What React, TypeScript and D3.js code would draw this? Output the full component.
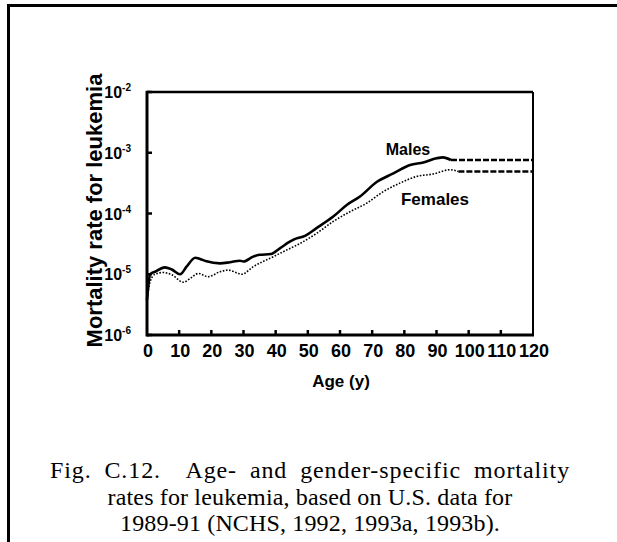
import React from "react";
import * as d3 from "d3";

const maleAges = [0, 1, 2.5, 5.5, 7.7, 10.3, 12.3, 15, 16.5, 18.5, 22.7, 25.8, 28.9, 30, 33, 35, 38.5, 41.3, 44.4, 46.5, 48.6, 52.7, 57.9, 62.1, 66.2, 71.4, 76.6, 81.8, 85.9, 90, 92, 94.5];
const maleRates = [3.8e-6, 1.0e-5, 1.1e-5, 1.3e-5, 1.2e-5, 1.0e-5, 1.33e-5, 1.87e-5, 1.78e-5, 1.63e-5, 1.51e-5, 1.58e-5, 1.67e-5, 1.62e-5, 1.95e-5, 2.09e-5, 2.15e-5, 2.67e-5, 3.44e-5, 3.9e-5, 4.17e-5, 5.75e-5, 8.9e-5, 1.38e-4, 1.9e-4, 3.3e-4, 4.57e-4, 6.3e-4, 6.9e-4, 8.1e-4, 8.4e-4, 7.6e-4];
const femaleAges = [0, 1, 2.5, 5, 7.7, 11.3, 13.4, 16, 19, 22.7, 25.3, 28.4, 29.5, 33, 39.3, 43.4, 47.5, 52.7, 57.9, 63.1, 68.3, 73.5, 78.6, 83.8, 89, 94.2, 96.8];
const femaleRates = [3.8e-6, 7.6e-6, 1.0e-5, 1.07e-5, 9.8e-6, 7.4e-6, 8.5e-6, 1.03e-5, 9.1e-6, 1.1e-5, 1.17e-5, 1.03e-5, 1.0e-5, 1.33e-5, 1.95e-5, 2.5e-5, 3.2e-5, 4.7e-5, 7.4e-5, 1.07e-4, 1.48e-4, 2.3e-4, 3.16e-4, 4.07e-4, 4.47e-4, 5.25e-4, 4.9e-4];
const maleExtension = [[94.5, 7.6e-4], [120, 7.6e-4]];
const femaleExtension = [[96.8, 4.9e-4], [120, 4.9e-4]];
const xTicks = [0, 10, 20, 30, 40, 50, 60, 70, 80, 90, 100, 110, 120];
const yTickExps = [-2, -3, -4, -5, -6];
const captionLines = [
  "Fig. C.12.  Age- and gender-specific mortality",
  "rates for leukemia, based on U.S. data for",
  "1989-91 (NCHS, 1992, 1993a, 1993b).",
];

const W = 617;
const H = 542;
const M = { left: 147, right: 533, top: 92, bottom: 335 };
const SANS = "'Liberation Sans', Arial, Helvetica, sans-serif";
const SERIF = "'Liberation Serif', 'Times New Roman', serif";

export default function App() {
  const x = d3.scaleLinear().domain([0, 120]).range([M.left, M.right]);
  const y = d3.scaleLog().domain([1e-6, 1e-2]).range([M.bottom, M.top]);
  const line = d3
    .line<[number, number]>()
    .x((d) => x(d[0]))
    .y((d) => y(d[1]))
    .curve(d3.curveMonotoneX);
  const males = maleAges.map((a, i) => [a, maleRates[i]] as [number, number]);
  const females = femaleAges.map((a, i) => [a, femaleRates[i]] as [number, number]);
  const straight = d3
    .line<number[]>()
    .x((d) => x(d[0]))
    .y((d) => y(d[1]));

  return (
    <div style={{ position: "absolute", left: 0, top: 0 }}>
      <svg width={W} height={H} style={{ display: "block", background: "#fff" }}>
        {/* frame */}
        <line x1={7} x2={W} y1={5.5} y2={5.5} stroke="#000" strokeWidth={3} />
        <line x1={8.5} x2={8.5} y1={4} y2={H} stroke="#000" strokeWidth={3} />

        {/* plot box */}
        <line x1={M.left} x2={M.right} y1={M.top} y2={M.top} stroke="#000" strokeWidth={2.5} />
        <line x1={M.right} x2={M.right} y1={M.top} y2={M.bottom} stroke="#000" strokeWidth={2} />
        <line x1={M.left} x2={M.right + 1} y1={M.bottom} y2={M.bottom} stroke="#000" strokeWidth={3} />
        <line x1={M.left} x2={M.left} y1={M.top - 1.2} y2={M.bottom + 1.5} stroke="#000" strokeWidth={3} />

        {/* y ticks */}
        {yTickExps.map((e) => (
          <g key={e}>
            <line x1={M.left} x2={M.left + 5} y1={y(Math.pow(10, e))} y2={y(Math.pow(10, e))} stroke="#000" strokeWidth={2.5} />
            <text
              x={131}
              y={y(Math.pow(10, e)) + 6}
              textAnchor="end"
              fontFamily={SANS}
              fontWeight="bold"
              fontSize={16}
            >
              10
              <tspan fontSize={10} dy={-7}>{`-${-e}`}</tspan>
            </text>
          </g>
        ))}

        {/* x ticks */}
        {xTicks.map((t) => (
          <g key={t}>
            {t > 0 && t < 120 && (
              <line x1={x(t)} x2={x(t)} y1={M.bottom} y2={M.bottom - 5} stroke="#000" strokeWidth={2.5} />
            )}
            <text
              x={x(t) + 1}
              y={M.bottom + 22}
              textAnchor="middle"
              fontFamily={SANS}
              fontWeight="bold"
              fontSize={18}
            >
              {t}
            </text>
          </g>
        ))}

        {/* axis titles */}
        <text
          x={341}
          y={387}
          textAnchor="middle"
          fontFamily={SANS}
          fontWeight="bold"
          fontSize={17}
        >
          Age (y)
        </text>
        <text
          transform={`translate(102,210.5) rotate(-90)`}
          textAnchor="middle"
          fontFamily={SANS}
          fontWeight="bold"
          fontSize={22}
        >
          Mortality rate for leukemia
        </text>

        {/* curves */}
        <path d={line(males) || ""} fill="none" stroke="#000" strokeWidth={2.6} strokeLinejoin="round" />
        <path d={line(females) || ""} fill="none" stroke="#000" strokeWidth={1.6} strokeDasharray="1.6 1.6" />
        <path d={straight(maleExtension) || ""} fill="none" stroke="#000" strokeWidth={2.6} strokeDasharray="6 2" />
        <path d={straight(femaleExtension) || ""} fill="none" stroke="#000" strokeWidth={2.6} strokeDasharray="6 2" />

        {/* labels */}
        <text x={408} y={155} textAnchor="middle" fontFamily={SANS} fontWeight="bold" fontSize={16}>
          Males
        </text>
        <text x={435} y={205} textAnchor="middle" fontFamily={SANS} fontWeight="bold" fontSize={17}>
          Females
        </text>

        {/* caption */}
        {captionLines.map((c, i) => (
          <text
            key={i}
            x={310}
            y={478 + i * 26.5}
            textAnchor="middle"
            fontFamily={SERIF}
            fontSize={24}
            letterSpacing={i === 0 ? 0.9 : 0.15}
            wordSpacing={i === 0 ? 6 : 0}
            style={{ whiteSpace: "pre" }}
          >
            {c}
          </text>
        ))}
      </svg>
    </div>
  );
}
